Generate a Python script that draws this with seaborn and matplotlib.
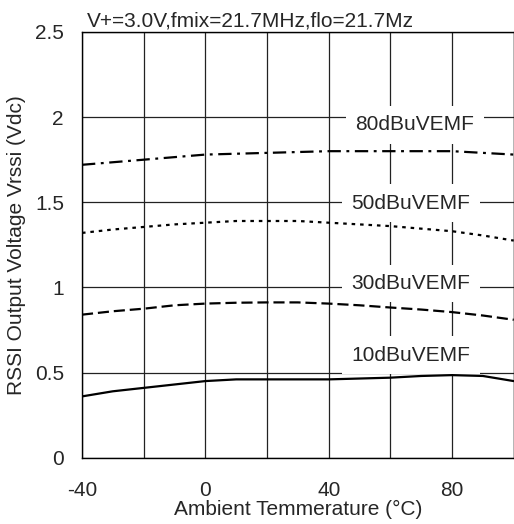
import matplotlib
matplotlib.use("Agg")
import matplotlib.pyplot as plt
import seaborn as sns
import pandas as pd

temps = [-40, -30, -20, -10, 0, 10, 20, 30, 40, 50, 60, 70, 80, 90, 100]
v_10db = [0.36, 0.39, 0.41, 0.43, 0.45, 0.46, 0.46, 0.46, 0.46, 0.465, 0.47, 0.48, 0.485, 0.48, 0.45]
v_30db = [0.84, 0.86, 0.875, 0.895, 0.905, 0.91, 0.912, 0.912, 0.905, 0.895, 0.882, 0.87, 0.855, 0.835, 0.81]
v_50db = [1.32, 1.34, 1.355, 1.37, 1.38, 1.39, 1.39, 1.39, 1.38, 1.37, 1.36, 1.345, 1.33, 1.305, 1.275]
v_80db = [1.72, 1.735, 1.75, 1.765, 1.78, 1.785, 1.79, 1.795, 1.80, 1.80, 1.80, 1.80, 1.80, 1.79, 1.78]
series_names = ["10dBuVEMF", "30dBuVEMF", "50dBuVEMF", "80dBuVEMF"]
label_pos = {"80dBuVEMF": (68, 1.955), "50dBuVEMF": (66.6, 1.495),
             "30dBuVEMF": (66.6, 1.023), "10dBuVEMF": (66.6, 0.603)}
title_text = "V+=3.0V,fmix=21.7MHz,flo=21.7Mz"
x_label = "Ambient Temmerature (°C)"
y_label = "RSSI Output Voltage Vrssi (Vdc)"

sns.set_style("white")
plt.rcParams['font.family'] = ['Liberation Sans', 'DejaVu Sans']

FS = 15
fig = plt.figure(figsize=(5.14, 5.24), dpi=100)
ax = fig.add_axes([0.1595, 0.1265, 0.84, 0.8125])

data = {"10dBuVEMF": v_10db, "30dBuVEMF": v_30db, "50dBuVEMF": v_50db, "80dBuVEMF": v_80db}
dashes = {"10dBuVEMF": None, "30dBuVEMF": (5, 2.2), "50dBuVEMF": (1.6, 2.2), "80dBuVEMF": (6, 2.5, 1.3, 2.5)}

for name in series_names:
    df = pd.DataFrame({"T": temps, "V": data[name]})
    sns.lineplot(data=df, x="T", y="V", ax=ax, color="black", lw=1.6, zorder=5)
    line = ax.lines[-1]
    if dashes[name] is not None:
        line.set_dashes(dashes[name])
    x, y = label_pos[name]
    ax.text(x, y, name, ha="center", va="center", fontsize=FS, zorder=3,
            bbox=dict(boxstyle="square,pad=0.45", facecolor="white", edgecolor="none"))

ax.set_xlim(-40, 100)
ax.set_ylim(0, 2.5)
ax.set_xticks([-40, -20, 0, 20, 40, 60, 80, 100])
ax.set_xticklabels(["-40", "", "0", "", "40", "", "80", ""])
ax.set_yticks([0, 0.5, 1, 1.5, 2, 2.5])
ax.set_yticklabels(["0", "0.5", "1", "1.5", "2", "2.5"])
ax.grid(True, color="#222222", lw=0.9, zorder=1)
ax.set_axisbelow(True)
ax.tick_params(axis="x", length=0, labelsize=FS, pad=17)
ax.tick_params(axis="y", length=0, labelsize=FS, pad=13)
for s in ax.spines.values():
    s.set_color("black")
    s.set_linewidth(1.0)
ax.set_xlabel(x_label, fontsize=FS, labelpad=0)
ax.set_ylabel(y_label, fontsize=FS, labelpad=6)
ax.text(0.012, 1.012, title_text, transform=ax.transAxes, ha="left", va="baseline", fontsize=FS)

fig.savefig("out.png", dpi=100)
